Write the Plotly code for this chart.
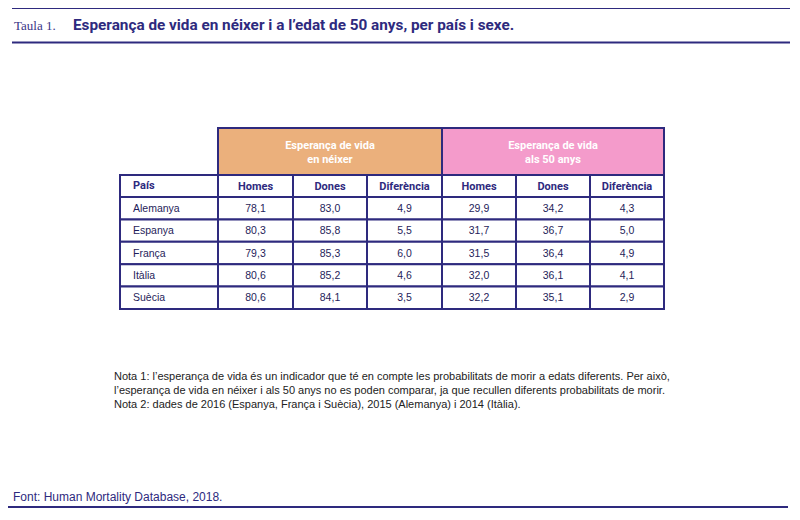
import plotly.graph_objects as go

# table data
paisos = ["Alemanya", "Espanya", "França", "Itàlia", "Suècia"]
homes_naix = [78.1, 80.3, 79.3, 80.6, 80.6]
dones_naix = [83.0, 85.8, 85.3, 85.2, 84.1]
dif_naix = [4.9, 5.5, 6.0, 4.6, 3.5]
homes_50 = [29.9, 31.7, 31.5, 32.0, 32.2]
dones_50 = [34.2, 36.7, 36.4, 36.1, 35.1]
dif_50 = [4.3, 5.0, 4.9, 4.1, 2.9]
subcaps = ["Homes", "Dones", "Diferència"]
grups = ["Esperança de vida<br>en néixer", "Esperança de vida<br>als 50 anys"]

NAVY = "#2e2a7e"
ORANGE = "#ebb07c"
PINK = "#f49bcb"
NARROW = "Liberation Sans Narrow, Arial Narrow, sans-serif"

# geometry (axis units = page pixels; the page body adds an 8px margin)
col_x = [120, 218, 293, 367, 442, 516, 590, 664]
y_top, y_grp, y_sub = 128, 175, 197
row_h = 22.4

fig = go.Figure()
shapes = []

def cell(x0, x1, y0, y1, fill="white"):
    shapes.append(dict(type="rect", xref="x", yref="y", x0=x0, x1=x1, y0=y0, y1=y1,
                       fillcolor=fill, line=dict(color=NAVY, width=2), layer="below"))

# group headers
cell(col_x[1], col_x[4], y_top, y_grp, ORANGE)
cell(col_x[4], col_x[7], y_top, y_grp, PINK)
# sub header row
for i in range(7):
    cell(col_x[i], col_x[i + 1], y_grp, y_sub)
# body
for r in range(len(paisos)):
    for i in range(7):
        cell(col_x[i], col_x[i + 1], y_sub + r * row_h, y_sub + (r + 1) * row_h)

fmt = lambda v: f"{v:.1f}".replace(".", ",")

# group header text
fig.add_trace(go.Scatter(
    x=[(col_x[1] + col_x[4]) / 2, (col_x[4] + col_x[7]) / 2],
    y=[(y_top + y_grp) / 2 + 1.5, (y_top + y_grp) / 2 + 1.5],
    mode="text", text=[f"<b>{g}</b>" for g in grups],
    textfont=dict(color="white", size=11, family="Roboto, sans-serif"),
    hoverinfo="skip", showlegend=False))

# sub header text
fig.add_trace(go.Scatter(
    x=[(col_x[i] + col_x[i + 1]) / 2 for i in range(1, 7)],
    y=[(y_grp + y_sub) / 2 + 1] * 6,
    mode="text", text=[f"<b>{s}</b>" for s in subcaps * 2],
    textfont=dict(color=NAVY, size=11, family="Roboto, sans-serif"),
    hoverinfo="skip", showlegend=False))
fig.add_trace(go.Scatter(
    x=[col_x[0] + 13], y=[(y_grp + y_sub) / 2],
    mode="text", text=["<b>País</b>"], textposition="middle right",
    textfont=dict(color=NAVY, size=11, family="Roboto, sans-serif"),
    hoverinfo="skip", showlegend=False))

# country names
row_mid = [y_sub + (r + 0.5) * row_h + 1 for r in range(len(paisos))]
fig.add_trace(go.Scatter(
    x=[col_x[0] + 13] * len(paisos), y=row_mid,
    mode="text", text=paisos, textposition="middle right",
    textfont=dict(color="#1f1d5a", size=10.5, family=NARROW),
    hoverinfo="skip", showlegend=False))

# values
series = [homes_naix, dones_naix, dif_naix, homes_50, dones_50, dif_50]
xs, ys, ts = [], [], []
for i, s in enumerate(series):
    cx = (col_x[i + 1] + col_x[i + 2]) / 2
    for r, v in enumerate(s):
        xs.append(cx)
        ys.append(row_mid[r])
        ts.append(fmt(v))
fig.add_trace(go.Scatter(
    x=xs, y=ys, mode="text", text=ts,
    textfont=dict(color="#1f1d5a", size=10.5, family=NARROW),
    hoverinfo="skip", showlegend=False))

# title rules
shapes.append(dict(type="line", xref="x", yref="y", x0=12, x1=790, y0=8, y1=8,
                   line=dict(color=NAVY, width=2)))
shapes.append(dict(type="line", xref="x", yref="y", x0=12, x1=790, y0=42.5, y1=42.5,
                   line=dict(color=NAVY, width=2)))
shapes.append(dict(type="line", xref="x", yref="y", x0=8, x1=788, y0=507, y1=507,
                   line=dict(color=NAVY, width=2)))

notes = [
    "Nota 1: l’esperança de vida és un indicador que té en compte les probabilitats de morir a edats diferents. Per això,",
    "l’esperança de vida en néixer i als 50 anys no es poden comparar, ja que recullen diferents probabilitats de morir.",
    "Nota 2: dades de 2016 (Espanya, França i Suècia), 2015 (Alemanya) i 2014 (Itàlia).",
]

annotations = [
    dict(x=12, y=25, xref="x", yref="y", text="Taula 1.", showarrow=False,
         xanchor="left", yanchor="middle",
         font=dict(family="Liberation Serif, serif", size=13, color="#3a3688")),
    dict(x=71, y=25, xref="x", yref="y",
         text="<b>Esperança de vida en néixer i a l’edat de 50 anys, per país i sexe.</b>",
         showarrow=False, xanchor="left", yanchor="middle",
         font=dict(family="Roboto, sans-serif", size=15.3, color=NAVY)),
    dict(x=11, y=497, xref="x", yref="y", text="Font: Human Mortality Database, 2018.",
         showarrow=False, xanchor="left", yanchor="middle",
         font=dict(family=NARROW, size=12, color=NAVY)),
]
for k, line in enumerate(notes):
    annotations.append(dict(x=112, y=376 + k * 14, xref="x", yref="y", text=line,
                            showarrow=False, xanchor="left", yanchor="middle",
                            font=dict(family=NARROW, size=11, color="#222222")))

fig.update_layout(
    width=800, height=520,
    margin=dict(l=0, r=0, t=0, b=0),
    paper_bgcolor="white", plot_bgcolor="white",
    xaxis=dict(range=[8, 808], visible=False, fixedrange=True),
    yaxis=dict(range=[528, 8], visible=False, fixedrange=True),
    shapes=shapes, annotations=annotations,
)

fig.write_html("out.html")
